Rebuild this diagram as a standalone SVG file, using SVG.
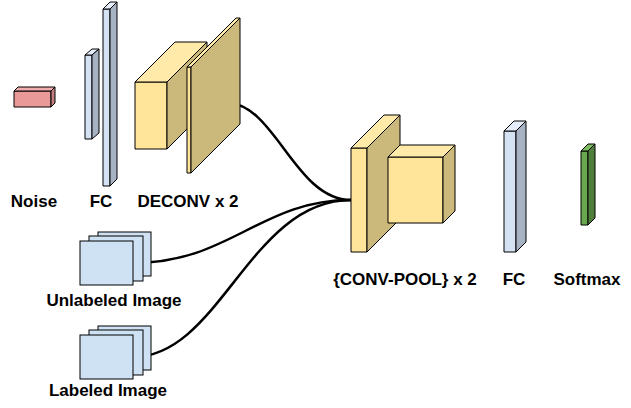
<svg xmlns="http://www.w3.org/2000/svg" width="631" height="408" viewBox="0 0 631 408">
<style>
.lbl{font-family:"Liberation Sans",Arial,Helvetica,sans-serif;font-weight:bold;font-size:17px;fill:#000;text-anchor:middle}
.s{stroke:#000;stroke-width:1;stroke-linejoin:round}
.rf{fill:#ea9999}.rt{fill:#f0adad}.rs{fill:#c27f7f}
.bf{fill:#d4e2f4}.bt{fill:#e4edf9}.bs{fill:#a7b3c3}
.yf{fill:#ffe599}.yt{fill:#ffeaaa}.ys{fill:#cbb87b}
.gf{fill:#6aa84f}.gt{fill:#7dba60}.gs{fill:#4f7f3b}
.img{fill:#cfe2f3;stroke:#000;stroke-width:1}
.edge{fill:none;stroke:#000;stroke-width:2.5}
</style>
<rect width="631" height="408" fill="#fff"/>
<g id="connectors">
<path class="edge" d="M227,103 C275,103 295,200 351,200"/>
<path class="edge" d="M133,263 C230,263 260,200 351,200"/>
<path class="edge" d="M133,357 C220,357 250,200 351,200"/>
</g>
<g id="noise">
<rect class="s rf" x="14" y="91" width="37" height="16"/>
<polygon class="s rt" points="14,91 18,87 55,87 51,91"/>
<polygon class="s rs" points="51,91 55,87 55,103 51,107"/>
</g>
<g id="fc1">
<rect class="s bf" x="85" y="55" width="7" height="84"/>
<polygon class="s bt" points="85,55 92,49 99,49 92,55"/>
<polygon class="s bs" points="92,55 99,49 99,133 92,139"/>
</g>
<g id="fc2">
<rect class="s bf" x="103" y="9" width="7" height="177"/>
<polygon class="s bt" points="103,9 110,2 117,2 110,9"/>
<polygon class="s bs" points="110,9 117,2 117,179 110,186"/>
</g>
<g id="deconv1">
<rect class="s yf" x="135" y="82" width="32" height="67"/>
<polygon class="s yt" points="135,82 175,42 207,42 167,82"/>
<polygon class="s ys" points="167,82 207,42 207,109 167,149"/>
</g>
<g id="deconv2">
<rect class="s yf" x="187" y="67" width="4" height="106"/>
<polygon class="s yt" points="187,67 236,18 240,18 191,67"/>
<polygon class="s ys" points="191,67 240,18 240,124 191,173"/>
</g>
<g id="unlabeled">
<rect class="img" x="98" y="232" width="53" height="44"/>
<rect class="img" x="89" y="236" width="54" height="45"/>
<rect class="img" x="80" y="241" width="53" height="44"/>
</g>
<g id="labeled">
<rect class="img" x="98" y="326" width="53" height="44"/>
<rect class="img" x="89" y="330" width="54" height="45"/>
<rect class="img" x="80" y="335" width="53" height="44"/>
</g>
<g id="conv1">
<rect class="s yf" x="351" y="148" width="16" height="104"/>
<polygon class="s yt" points="351,148 384,115 400,115 367,148"/>
<polygon class="s ys" points="367,148 400,115 400,219 367,252"/>
</g>
<g id="conv2">
<rect class="s yf" x="388" y="157" width="55" height="66"/>
<polygon class="s yt" points="388,157 400,145 455,145 443,157"/>
<polygon class="s ys" points="443,157 455,145 455,211 443,223"/>
</g>
<g id="fc3">
<rect class="s bf" x="504" y="131" width="12" height="121"/>
<polygon class="s bt" points="504,131 514,121 526,121 516,131"/>
<polygon class="s bs" points="516,131 526,121 526,242 516,252"/>
</g>
<g id="softmax">
<rect class="s gf" x="581" y="151" width="7" height="74"/>
<polygon class="s gt" points="581,151 588,144 595,144 588,151"/>
<polygon class="s gs" points="588,151 595,144 595,218 588,225"/>
</g>
<g id="labels">
<text class="lbl" x="34" y="207">Noise</text>
<text class="lbl" x="101" y="207">FC</text>
<text class="lbl" x="188" y="207">DECONV x 2</text>
<text class="lbl" x="114" y="306">Unlabeled Image</text>
<text class="lbl" x="108" y="396">Labeled Image</text>
<text class="lbl" x="405" y="285">{CONV-POOL} x 2</text>
<text class="lbl" x="514" y="285">FC</text>
<text class="lbl" x="587" y="285">Softmax</text>
</g>
</svg>
